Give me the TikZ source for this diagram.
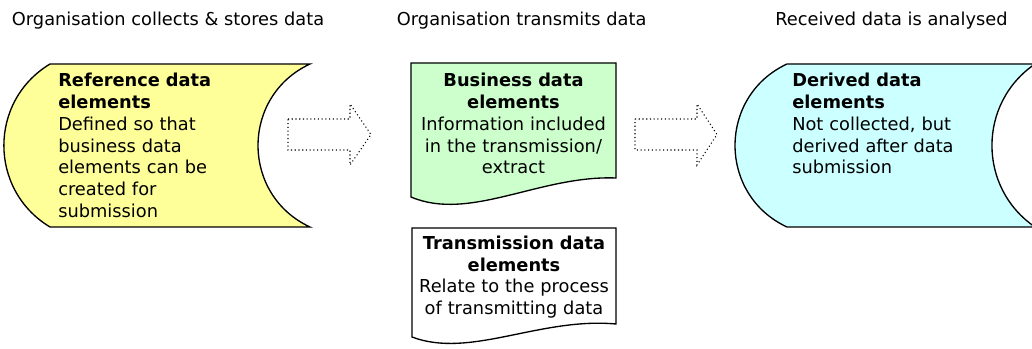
\documentclass[tikz,border=0pt]{standalone}
\usepackage{fontspec}
\setmainfont{DejaVu Sans}
\usepackage{xcolor}
\usetikzlibrary{positioning}
\definecolor{refyellow}{HTML}{FFFF99}
\definecolor{busgreen}{HTML}{CCFFCC}
\definecolor{dercyan}{HTML}{CCFFFF}

\begin{document}
\begin{tikzpicture}[x=0.75pt, y=-0.75pt,
		every node/.style={inner sep=0pt, font=\fontsize{13.35}{16.35}\selectfont},
		title/.style={anchor=base west},
		txtleft/.style={anchor=base west, align=left, text width=150pt},
		txtmid/.style={anchor=base, align=center, text width=160pt},
		shapeline/.style={draw, line width=1pt},
		flow/.style={draw, dotted, line width=0.8pt}]
		\clip (0,0) rectangle (1032,349);
		%% Stages
		\node [title] at (11.7,26) (T1) {Organisation collects \& stores data};
		\node [title] at (396.7,26) (T2) {Organisation transmits data};
		\node [title] at (775,26) (T3) {Received data is analysed};
		%% Stored data shapes
		\path [shapeline, fill=refyellow] (50,64) -- (310,64)
			.. controls (240.7,96.2) and (240.7,194.8) .. (310,227) -- (50,227)
			.. controls (-11.5,189.9) and (-11.5,101.1) .. (50,64) -- cycle;
		\path [shapeline, fill=dercyan] (787,64) -- (1035,64)
			.. controls (977.6,103.2) and (977.6,187.8) .. (1035,227) -- (787,227)
			.. controls (717.7,194.8) and (717.7,96.2) .. (787,64) -- cycle;
		%% Document shapes
		\path [shapeline, fill=busgreen] (411,63) -- (616,63) -- (616,178)
			.. controls (540,175) and (470,222) .. (411,197) -- cycle;
		\path [shapeline, fill=white] (412,228) -- (616,228) -- (616,324)
			.. controls (540,317) and (470,359) .. (412,337) -- cycle;
		%% Texts
		\node [txtleft] at (58,86.7) (Ref) {\textbf{Reference data}\\\textbf{elements}\\Defined so that\\business data\\elements can be\\created for\\submission};
		\node [txtmid] at (513.5,86.7) (Bus) {\textbf{Business data}\\\textbf{elements}\\Information included\\in the transmission/\\extract};
		\node [txtmid] at (514,249.3) (Trans) {\textbf{Transmission data}\\\textbf{elements}\\Relate to the process\\of transmitting data};
		\node [txtleft] at (792,86.7) (Der) {\textbf{Derived data}\\\textbf{elements}\\Not collected, but\\derived after data\\submission};
		%% Flows
		\path [flow] (288,119) -- (350,119) -- (350,104) -- (371,134.5) -- (350,165) -- (350,150) -- (288,150) -- cycle;
		\path [flow] (635,119) -- (697,119) -- (697,104) -- (717,134.5) -- (697,165) -- (697,150) -- (635,150) -- cycle;
\end{tikzpicture}
\end{document}
